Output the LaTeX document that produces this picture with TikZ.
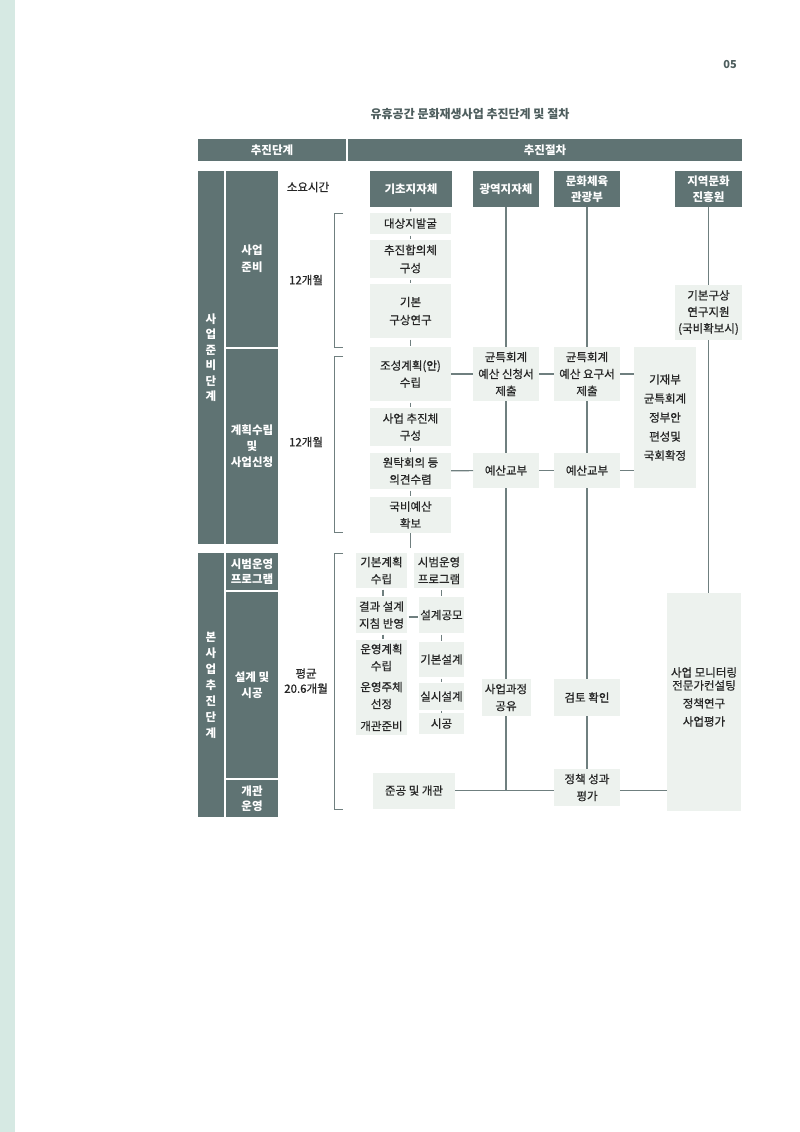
\documentclass[tikz,border=0pt]{standalone}
\usepackage{fontspec}
\setmainfont{Noto Sans CJK KR}
\newfontfamily\medf{Noto Sans CJK KR}[FakeBold=0.6]
\definecolor{dark}{HTML}{5F7373}
\definecolor{light}{HTML}{EDF2EE}
\definecolor{linec}{HTML}{6F7F7F}
\definecolor{strip}{HTML}{D6E9E3}
\definecolor{txt}{HTML}{262626}
\definecolor{ttl}{HTML}{4E5E5E}
\begin{document}
\begin{tikzpicture}[x=1pt,y=-1pt,
  base/.style={inner sep=0pt, outer sep=0pt, align=center, font=\medf\fontsize{11.5}{17}\selectfont},
  dbox/.style 2 args={base, fill=dark, text=white, minimum width=#1, minimum height=#2, font=\fontsize{11.5}{17}\selectfont\bfseries},
  lbox/.style 2 args={base, fill=light, text=txt, minimum width=#1, minimum height=#2},
  lbl/.style={base, text=txt},
  conn/.style={draw=linec, line width=1.1pt},
  tickln/.style={conn, shorten <=1.5pt, shorten >=1.5pt},
  brk/.style={draw=linec, line width=1pt},
]
\useasboundingbox (0,0) rectangle (800,1132);
\fill[white] (0,0) rectangle (800,1132);
\fill[strip] (0,0) rectangle (15,1132);

% page number and title
\node[base, text=ttl, font=\fontsize{11}{12}\selectfont\bfseries] (pg) at (730,65) {05};
\node[base, text=ttl, font=\fontsize{12}{13}\selectfont\bfseries] (title) at (470,114) {유휴공간 문화재생사업 추진단계 및 절차};

% header bar
\node[dbox={148pt}{22pt}] (hdL) at (272,150) {추진단계};
\node[dbox={394pt}{22pt}] (hdR) at (545,150) {추진절차};

% left stage column
\node[dbox={26pt}{373pt}, font=\fontsize{11.5}{15.5}\selectfont\bfseries] (oA) at (211,357.5) {사\\업\\준\\비\\단\\계};
\node[dbox={52pt}{176pt}] (iA1) at (252,259) {사업\\준비};
\node[dbox={52pt}{195pt}, font=\fontsize{11.5}{16}\selectfont\bfseries] (iA2) at (252,446.5) {계획수립\\및\\사업신청};
\node[dbox={26pt}{264pt}, font=\fontsize{11.5}{16}\selectfont\bfseries] (oB) at (211,685) {본\\사\\업\\추\\진\\단\\계};
\node[dbox={52pt}{37pt}, font=\fontsize{11.5}{15}\selectfont\bfseries] (iB1) at (252,571.5) {시범운영\\프로그램};
\node[dbox={52pt}{186pt}, font=\fontsize{11.5}{16}\selectfont\bfseries] (iB2) at (252,685) {설계 및\\시공};
\node[dbox={52pt}{37pt}, font=\fontsize{11.5}{15}\selectfont\bfseries] (iB3) at (252,798.5) {개관\\운영};

% durations
\node[lbl] (t0) at (308,187) {소요시간};
\node[lbl] (t1) at (306,280) {12개월};
\node[lbl] (t2) at (306,442) {12개월};
\node[lbl, font=\medf\fontsize{11.5}{15}\selectfont] (t3) at (306,681) {평균\\20.6개월};

% brackets
\draw[brk] (343,213) -- (334,213) -- (334,347) -- (343,347);
\draw[brk] (343,356) -- (334,356) -- (334,532) -- (343,532);
\draw[brk] (343,553) -- (334,553) -- (334,809) -- (343,809);

% column headers
\node[dbox={82pt}{36pt}] (h1) at (411,189) {기초지자체};
\node[dbox={66pt}{36pt}] (h2) at (506,189) {광역지자체};
\node[dbox={66pt}{36pt}, font=\fontsize{11.5}{16}\selectfont\bfseries] (h3) at (587,189) {문화체육\\관광부};
\node[dbox={67pt}{36pt}, font=\fontsize{11.5}{16}\selectfont\bfseries] (h4) at (708.5,189) {지역문화\\진흥원};

% column 1 (upper)
\node[lbox={81pt}{21pt}] (a1) at (410.5,223.5) {대상지발굴};
\node[lbox={81pt}{38pt}, font=\medf\fontsize{11.5}{18}\selectfont] (a2) at (410.5,259) {추진합의체\\구성};
\node[lbox={81pt}{54pt}, font=\medf\fontsize{11.5}{18}\selectfont] (a3) at (410.5,311) {기본\\구상연구};
\node[lbox={81pt}{54pt}] (a4) at (410.5,374) {조성계획(안)\\수립};
\node[lbox={81pt}{38pt}] (a5) at (410.5,427) {사업 추진체\\구성};
\node[lbox={81pt}{36pt}] (a6) at (410.5,471) {원탁회의 등\\의견수렴};
\node[lbox={81pt}{36pt}] (a7) at (410.5,515) {국비예산\\확보};
\coordinate (a8) at (410.5,548);

% column 2
\node[lbox={66pt}{54pt}] (b1) at (506,374) {균특회계\\예산 신청서\\제출};
\node[lbox={66pt}{35pt}] (b2) at (506,470.5) {예산교부};
\node[lbox={49pt}{37pt}] (b3) at (506,697.5) {사업과정\\공유};

% column 3
\node[lbox={66pt}{54pt}] (c1) at (587,374) {균특회계\\예산 요구서\\제출};
\node[lbox={66pt}{35pt}] (c2) at (587,470.5) {예산교부};
\node[lbox={66pt}{37pt}] (c3) at (587,697.5) {검토 확인};
\node[lbox={66pt}{37pt}] (c4) at (587,787.5) {정책 성과\\평가};

% column 4
\node[lbox={62pt}{141pt}, font=\medf\fontsize{11.5}{19}\selectfont] (d0) at (665,417.5) {기재부\\균특회계\\정부안\\편성및\\국회확정};
\node[lbox={67pt}{55pt}, font=\medf\fontsize{11.5}{16.5}\selectfont] (d1) at (708.5,312.5) {기본구상\\연구지원\\(국비확보시)};
\node[lbox={74pt}{218pt}] (d2) at (704,702) {사업 모니터링\\[-4pt]전문가컨설팅\\[1pt]정책연구\\[1pt]사업평가\\[-6pt]\mbox{}};

% lower column 1
\node[lbox={51pt}{35pt}] (e1) at (381.5,570.5) {기본계획\\수립};
\node[lbox={50pt}{35pt}] (e2) at (439,570.5) {시범운영\\프로그램};
\node[lbox={51pt}{36pt}] (e3) at (381.5,615) {결과 설계\\지침 반영};
\node[lbox={45pt}{36pt}] (e4) at (441.5,615) {설계공모};
\node[lbox={51pt}{95pt}] (e5) at (381.5,687.5) {};
\node[lbl] (e5a) at (381.5,657.5) {운영계획\\수립};
\node[lbl] (e5b) at (381.5,695.5) {운영주체\\선정};
\node[lbl] (e5c) at (381.5,726) {개관준비};
\node[lbox={45pt}{35pt}] (e6) at (441.5,659.5) {기본설계};
\node[lbox={45pt}{27pt}] (e7) at (441.5,696.5) {실시설계};
\node[lbox={45pt}{21pt}] (e8) at (441.5,723.5) {시공};
\node[lbox={82pt}{36pt}] (f1) at (414,790.5) {준공 및 개관};

% ticks column 1
\draw[tickln] (h1) -- (a1);
\draw[tickln] (a1) -- (a2);
\draw[tickln] (a2) -- (a3);
\draw[tickln] (a3) -- (a4);
\draw[tickln] (a4) -- (a5);
\draw[tickln] (a5) -- (a6);
\draw[tickln] (a6) -- (a7);
\draw[conn] (a7.south) -- (a8);
\draw[tickln] (e1.south -| 383,0) -- (e3.north -| 383,0);
\draw[tickln] (e3.south -| 383,0) -- (e5.north -| 383,0);
\draw[tickln] (e4.north) -- (e4.north |- e2.south);
\draw[tickln] (e4) -- (e6);
\draw[tickln] (e6) -- (e7);
\draw[conn, shorten <=0.5pt, shorten >=0.5pt] (e7) -- (e8);
\draw[conn, shorten <=1.5pt, shorten >=1.5pt] (e3.east |- 0,617) -- (e4.west |- 0,617);

% column 2 & 3 verticals
\draw[conn] (h2) -- (b1);
\draw[conn] (b1) -- (b2);
\draw[conn] (b2) -- (b3);
\draw[conn] (b3.south) -- (b3.south |- f1.east);
\draw[conn] (h3) -- (c1);
\draw[conn] (c1) -- (c2);
\draw[conn] (c2) -- (c3);
\draw[conn] (c3) -- (c4);
\draw[conn] (h4) -- (d1);
\draw[conn] (d1.south) -- (d2.north -| d1.south);

% horizontals
\draw[conn] (a4) -- (b1);
\draw[conn] (b1) -- (c1);
\draw[conn] (c1.east) -- (c1.east -| d0.west);
\draw[conn] (a6) -- (b2);
\draw[conn] (b2) -- (c2);
\draw[conn] (c2.east) -- (c2.east -| d0.west);
\draw[conn] (f1.east) -- (f1.east -| c4.west);
\draw[conn] (c4.east |- f1.east) -- (d2.west |- f1.east);
\end{tikzpicture}
\end{document}
